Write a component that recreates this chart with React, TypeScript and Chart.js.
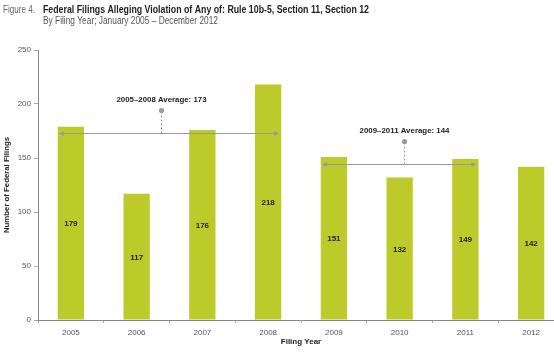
import React, { useEffect, useRef } from "react";
import { Chart, registerables } from "chart.js";

Chart.register(...registerables);

const years = ["2005", "2006", "2007", "2008", "2009", "2010", "2011", "2012"];
const filings = [179, 117, 176, 218, 151, 132, 149, 142];
const yTicksMax = 250;
const yTickStep = 50;
const avgLabels = ["2005–2008 Average: 173", "2009–2011 Average: 144"];
const avgValues = [173, 144];
const avgStartIdx = [0, 4];
const avgEndIdx = [3, 6];
const avgMarkerIdx = [1.37, 5.07];

const FONT = "'Liberation Sans', Arial, sans-serif";
const BAR = "#BDCB2A";
const LINE = "#999999";

const overlay = {
  id: "overlay",
  afterDatasetsDraw(chart: any) {
    const ctx = chart.ctx as CanvasRenderingContext2D;
    const xs = chart.scales.x;
    const ys = chart.scales.y;
    const meta = chart.getDatasetMeta(0);
    ctx.save();
    // value labels
    ctx.font = `bold 8px ${FONT}`;
    ctx.fillStyle = "#222";
    ctx.textAlign = "center";
    ctx.textBaseline = "middle";
    meta.data.forEach((bar: any, i: number) => {
      ctx.fillText(String(filings[i]), bar.x, (bar.y + bar.base) / 2 + 1);
    });
    // average lines
    avgValues.forEach((v, k) => {
      const y = Math.round(ys.getPixelForValue(v)) + 0.5;
      const x1 = xs.getPixelForValue(avgStartIdx[k]) - 12;
      const x2 = xs.getPixelForValue(avgEndIdx[k]) + 11;
      ctx.strokeStyle = LINE;
      ctx.fillStyle = LINE;
      ctx.lineWidth = 1.2;
      ctx.setLineDash([]);
      ctx.beginPath();
      ctx.moveTo(x1 + 3, y);
      ctx.lineTo(x2 - 3, y);
      ctx.stroke();
      // arrowheads
      ctx.beginPath();
      ctx.moveTo(x1, y);
      ctx.lineTo(x1 + 5, y - 2.5);
      ctx.lineTo(x1 + 5, y + 2.5);
      ctx.closePath();
      ctx.fill();
      ctx.beginPath();
      ctx.moveTo(x2, y);
      ctx.lineTo(x2 - 5, y - 2.5);
      ctx.lineTo(x2 - 5, y + 2.5);
      ctx.closePath();
      ctx.fill();
      // marker
      const mx = Math.round(xs.getPixelForValue(avgMarkerIdx[k])) + 0.5;
      const my = y - 23;
      ctx.lineWidth = 1;
      ctx.setLineDash([2, 2]);
      ctx.beginPath();
      ctx.moveTo(mx, y);
      ctx.lineTo(mx, my);
      ctx.stroke();
      ctx.setLineDash([]);
      ctx.beginPath();
      ctx.arc(mx, my, 2.6, 0, Math.PI * 2);
      ctx.fill();
      // label
      ctx.font = `bold 8px ${FONT}`;
      ctx.fillStyle = "#222";
      ctx.textAlign = "center";
      ctx.textBaseline = "middle";
      ctx.fillText(avgLabels[k], mx, my - 11, 90);
    });
    // axis titles
    ctx.font = `bold 8px ${FONT}`;
    ctx.fillStyle = "#222";
    ctx.textAlign = "center";
    ctx.textBaseline = "middle";
    ctx.fillText("Filing Year", 301, 342);
    ctx.save();
    ctx.translate(7, (ys.top + ys.bottom) / 2);
    ctx.rotate(-Math.PI / 2);
    ctx.fillText("Number of Federal Filings", 0, 0, 96);
    ctx.restore();
    // header
    ctx.textAlign = "left";
    ctx.textBaseline = "alphabetic";
    ctx.font = `10px ${FONT}`;
    ctx.fillStyle = "#666";
    ctx.fillText("Figure 4.", 3, 13, 32);
    ctx.font = `bold 10.5px ${FONT}`;
    ctx.fillStyle = "#222";
    ctx.fillText(
      "Federal Filings Alleging Violation of Any of: Rule 10b-5, Section 11, Section 12",
      43,
      13,
      326
    );
    ctx.font = `10px ${FONT}`;
    ctx.fillStyle = "#555";
    ctx.fillText("By Filing Year; January 2005 – December 2012", 43, 23.5, 175);
    ctx.restore();
  },
};

export default function App() {
  const ref = useRef<HTMLCanvasElement>(null);
  useEffect(() => {
    if (!ref.current) return;
    const chart = new Chart(ref.current, {
      type: "bar",
      data: {
        labels: years,
        datasets: [
          {
            data: filings,
            backgroundColor: BAR,
            borderWidth: 0,
            categoryPercentage: 0.4,
            barPercentage: 1,
          },
        ],
      },
      options: {
        animation: false,
        responsive: false,
        devicePixelRatio: 1,
        layout: { padding: { top: 50, left: 0, right: 0, bottom: 0 } },
        plugins: {
          legend: { display: false },
          tooltip: { enabled: false },
          title: { display: false },
        },
        scales: {
          x: {
            afterFit: (s: any) => {
              s.height = 39;
            },
            grid: {
              display: true,
              drawOnChartArea: false,
              drawTicks: true,
              tickLength: 3,
              color: "#aaa",
              offset: true,
            },
            border: { display: true, color: "#888", width: 1 },
            ticks: {
              color: "#555",
              font: { family: FONT, size: 8 },
              padding: 5,
              maxRotation: 0,
            },
          },
          y: {
            min: 0,
            max: yTicksMax,
            afterFit: (s: any) => {
              s.width = 38;
            },
            grid: {
              display: true,
              drawOnChartArea: false,
              drawTicks: true,
              tickLength: 4,
              color: "#aaa",
            },
            border: { display: true, color: "#888", width: 1 },
            ticks: {
              stepSize: yTickStep,
              color: "#555",
              font: { family: FONT, size: 8 },
              padding: 3,
            },
          },
        },
      },
      plugins: [overlay],
    });
    return () => chart.destroy();
  }, []);
  return (
    <div
      style={{
        position: "fixed",
        left: 0,
        top: 0,
        width: 554,
        height: 359,
        overflow: "hidden",
        background: "#fff",
      }}
    >
      <canvas ref={ref} width={564} height={359} style={{ display: "block" }} />
    </div>
  );
}
